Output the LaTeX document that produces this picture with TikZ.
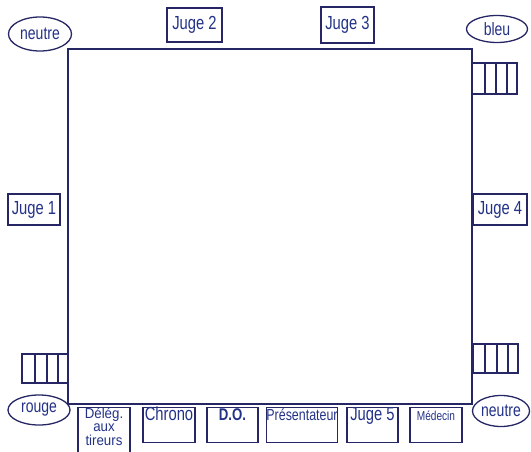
\documentclass[tikz,border=0pt]{standalone}
\usepackage{fontspec}
\setmainfont{Liberation Sans}[FakeStretch=0.78]
\usepackage{tikz}
\usetikzlibrary{shapes.geometric}

\definecolor{ringblue}{RGB}{38,38,100}
\definecolor{inkblue}{RGB}{35,50,135}

\tikzset{
  ring/.style={draw=ringblue, line width=1.6bp},
  judge/.style={draw=ringblue, line width=1.3bp, text=inkblue, inner sep=0pt,
    minimum width=53bp, font=\fontsize{19}{21}\selectfont},
  desk/.style={judge, anchor=north, minimum width=52bp, text height=13bp, text depth=22bp},
  corner/.style={ellipse, draw=ringblue, line width=1.3bp, text=inkblue, inner sep=0pt,
    minimum width=61bp, minimum height=30bp, font=\fontsize{18}{20}\selectfont},
  stairs/.style={draw=ringblue, line width=1.3bp}
}

\begin{document}
\begin{tikzpicture}[x=1bp,y=-1bp]
\useasboundingbox (0,0) rectangle (531,452);
% ring
\draw[ring] (68,49) rectangle (472,404);
% corners
\node[corner, minimum width=63bp, minimum height=34bp] (neutreA) at (40,34) {neutre};
\node[corner, minimum height=27bp] (bleu) at (497,29) {bleu};
\node[corner, minimum width=62bp] (rouge) at (39,410) {rouge};
\node[corner, minimum width=57bp, minimum height=31bp] (neutreB) at (501,411) {neutre};
% steps
\draw[stairs] (472,63) rectangle (517,94);
\foreach \x in {485,496,507} \draw[stairs] (\x,63) -- (\x,94);
\draw[stairs] (473,344) rectangle (518,373);
\foreach \x in {485,497,508} \draw[stairs] (\x,344) -- (\x,373);
\draw[stairs] (22,354) rectangle (68,383);
\foreach \x in {35,47,58} \draw[stairs] (\x,354) -- (\x,383);
% judges
\node[judge, minimum width=52bp, minimum height=31bp] (juge1) at (34,209.5) {Juge 1};
\node[judge, minimum width=55bp, minimum height=34bp] (juge2) at (194.5,25) {Juge 2};
\node[judge, minimum height=36bp] (juge3) at (347.5,25) {Juge 3};
\node[judge, minimum width=54bp, minimum height=31bp] (juge4) at (500,209.5) {Juge 4};
% officials' table
\node[judge, anchor=north, minimum width=52bp, minimum height=52bp] (deleg) at (104,407) {};
\node[text=inkblue, anchor=north, inner sep=0.5bp, align=center,
  font=\fontsize{14.5}{13.5}\selectfont\addfontfeatures{FakeStretch=0.92}] (delegtxt) at (deleg.north) {Délég.\\aux\\tireurs};
\node[desk] (chrono) at (169,407) {Chrono};
\node[desk, minimum width=51bp, font=\fontsize{17}{20}\bfseries] (do) at (232.5,407) {D.O.};
\node[desk, minimum width=70bp, font=\fontsize{16}{20}\selectfont] (present) at (302,407) {Présentateur};
\node[desk, minimum width=51bp] (juge5) at (372.5,407) {Juge 5};
\node[desk, font=\fontsize{13}{20}\selectfont] (medecin) at (436,407) {Médecin};
\end{tikzpicture}
\end{document}
